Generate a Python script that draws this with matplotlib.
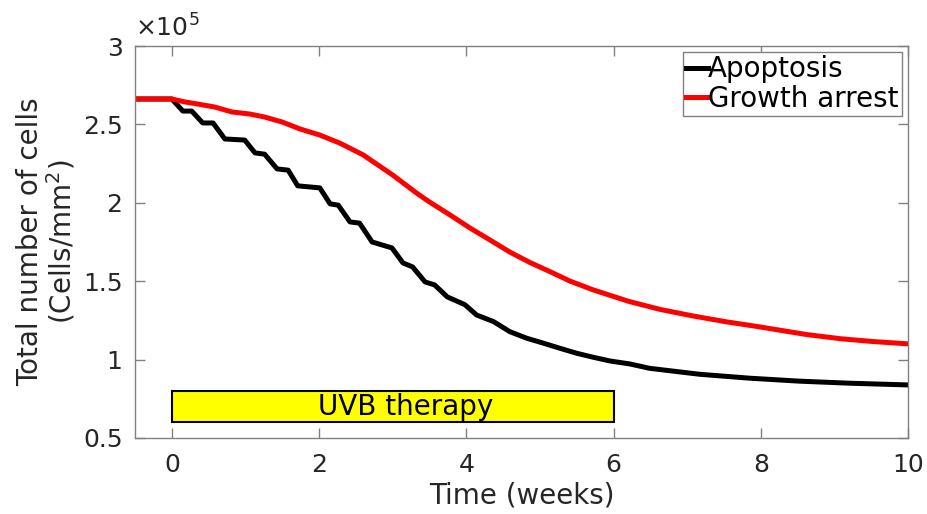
import matplotlib
matplotlib.use("Agg")
from matplotlib import pyplot as plt
from matplotlib.patches import Rectangle
from matplotlib.ticker import FuncFormatter


#+++++ data (cell counts in units of 1e5 cells/mm^2)
t_apop = [-0.5, 0.0, 0.15, 0.27, 0.42, 0.56, 0.72, 0.99, 1.13, 1.26, 1.43, 1.58,
          1.71, 2.01, 2.15, 2.26, 2.42, 2.55, 2.72, 2.99, 3.14, 3.27, 3.44, 3.57,
          3.74, 3.98, 4.14, 4.37, 4.59, 4.82, 5.05, 5.27, 5.50, 5.72, 5.95, 6.22,
          6.49, 7.17, 7.85, 8.53, 9.21, 10.0]
apoptosis = [2.662, 2.662, 2.585, 2.585, 2.509, 2.509, 2.407, 2.400, 2.318, 2.310,
             2.216, 2.208, 2.108, 2.095, 1.993, 1.985, 1.878, 1.870, 1.750, 1.712,
             1.616, 1.591, 1.495, 1.476, 1.400, 1.350, 1.284, 1.242, 1.178, 1.136,
             1.104, 1.072, 1.040, 1.015, 0.991, 0.972, 0.944, 0.906, 0.881, 0.862,
             0.849, 0.838]

t_arrest = [-0.5, 0.0, 0.18, 0.35, 0.58, 0.82, 1.06, 1.26, 1.50, 1.74, 2.01, 2.28,
            2.60, 3.00, 3.33, 3.50, 3.78, 4.05, 4.32, 4.59, 4.86, 5.14, 5.41, 5.72,
            6.20, 6.63, 7.08, 7.54, 7.99, 8.17, 8.63, 9.08, 9.52, 10.0]
growth_arrest = [2.662, 2.662, 2.643, 2.630, 2.611, 2.579, 2.566, 2.547, 2.515, 2.471,
                 2.432, 2.381, 2.305, 2.177, 2.060, 2.005, 1.922, 1.839, 1.763, 1.686,
                 1.620, 1.560, 1.500, 1.445, 1.372, 1.320, 1.278, 1.240, 1.208, 1.194,
                 1.159, 1.133, 1.115, 1.100]

therapy_start, therapy_end = 0, 6
therapy_low, therapy_high = 0.6, 0.8
#-----


plt.rcParams["font.family"] = "DejaVu Sans"
fig = plt.figure(figsize=(9.28, 5.14), dpi=100)
ax = fig.add_axes([0.1455, 0.148, 0.833, 0.7625])

ax.plot(t_apop, apoptosis, color="black", lw=3.6, label="Apoptosis")
ax.plot(t_arrest, growth_arrest, color="red", lw=3.6, label="Growth arrest")

ax.add_patch(Rectangle((therapy_start, therapy_low), therapy_end - therapy_start,
                       therapy_high - therapy_low, facecolor="yellow",
                       edgecolor="black", lw=1.5, zorder=3))
# label sits slightly right of the box centre, as in the original
ax.text((therapy_start + therapy_end)/2 + 0.17, (therapy_low + therapy_high)/2,
        "UVB therapy", ha="center", va="center", fontsize=20, zorder=4)

ax.set_xlim(-0.5, 10)
ax.set_ylim(0.5, 3)
ax.set_xticks([0, 2, 4, 6, 8, 10])
ax.set_yticks([0.5, 1, 1.5, 2, 2.5, 3])
ax.yaxis.set_major_formatter(FuncFormatter(lambda v, p: "%g" % v))

gray = "#808080"
for s in ax.spines.values():
    s.set_color(gray)
    s.set_linewidth(1)
ax.tick_params(direction="in", length=7, width=1, color=gray, labelcolor="#262626",
               labelsize=18, top=True, right=True)
ax.tick_params(axis="x", pad=11)
ax.tick_params(axis="y", pad=9)

ax.set_xlabel("Time (weeks)", fontsize=20, color="#262626", labelpad=3)
ax.set_ylabel("Total number of cells\n(Cells/mm$^2$)", fontsize=20, color="#262626",
              labelpad=4, linespacing=1.0)
ax.text(0, 1.01, r"$\times$10$^5$", transform=ax.transAxes, fontsize=18,
        color="#262626", ha="left", va="bottom")

leg = ax.legend(loc="upper right", fontsize=20, handlelength=0.8, handletextpad=0.0,
                borderpad=0.12, borderaxespad=0.22, labelspacing=0.05,
                fancybox=False, framealpha=1)
leg.get_frame().set_edgecolor(gray)
leg.get_frame().set_linewidth(1)

fig.savefig("out.png", dpi=100)
